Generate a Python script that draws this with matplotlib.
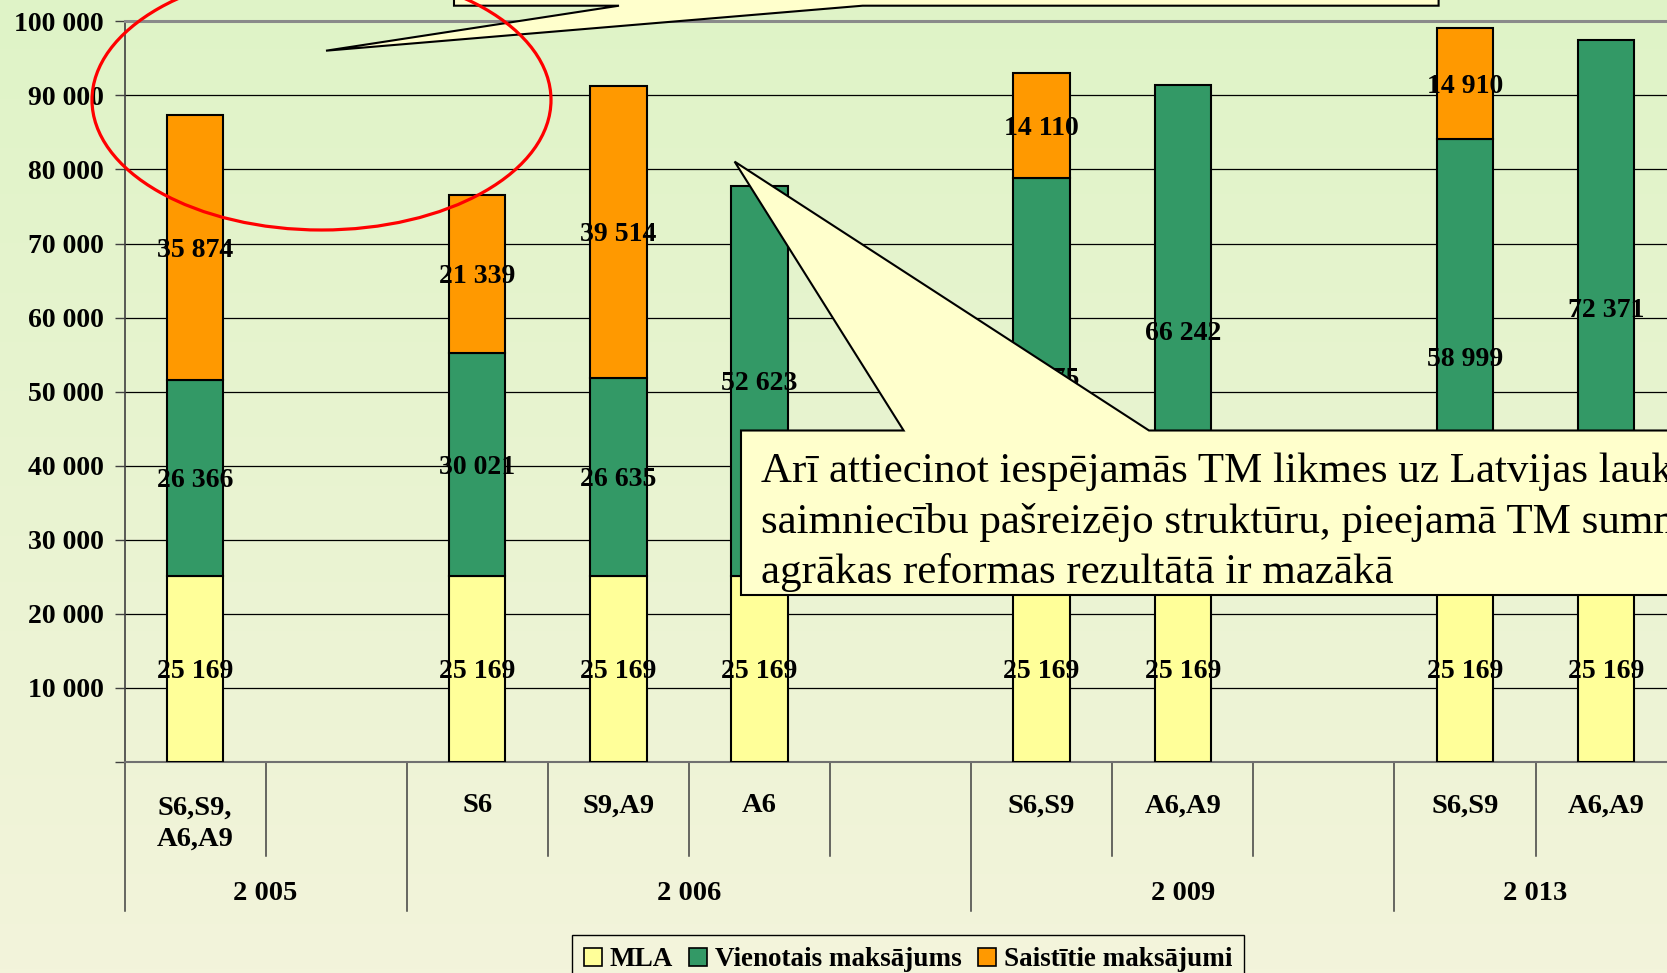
import matplotlib
matplotlib.use("Agg")
import matplotlib.pyplot as plt
import numpy as np
from matplotlib.patches import Polygon, Ellipse, Patch
from matplotlib.ticker import FuncFormatter

# --- data ---
categories = ["S6,S9,\nA6,A9", "", "S6", "S9,A9", "A6", "", "S6,S9", "A6,A9", "", "S6,S9", "A6,A9"]
mla = [25169, 0, 25169, 25169, 25169, 0, 25169, 25169, 0, 25169, 25169]
vienotais = [26366, 0, 30021, 26635, 52623, 0, 53675, 66242, 0, 58999, 72371]
saistitie = [35874, 0, 21339, 39514, 0, 0, 14110, 0, 0, 14910, 0]
years = ["2 005", "2 006", "2 009", "2 013"]
year_sizes = [2, 4, 3, 2]
series_names = ["MLA", "Vienotais maksājums", "Saistītie maksājumi"]
series_colors = ["#ffff99", "#339966", "#ff9900"]
note_lines = [
    "Arī attiecinot iespējamās TM likmes uz Latvijas lauku",
    "saimniecību pašreizējo struktūru, pieejamā TM summa",
    "agrākas reformas rezultātā ir mazākā",
]

W, H = 1667, 973
plt.rcParams["font.family"] = ["Liberation Serif", "DejaVu Serif"]

fig = plt.figure(figsize=(W / 100, H / 100), dpi=100)

# background gradient over the whole figure
bg = fig.add_axes([0, 0, 1, 1], zorder=-10)
top_c = np.array([223, 243, 199]) / 255
bot_c = np.array([243, 244, 219]) / 255
t = np.linspace(0, 1, 256)[:, None, None]
grad = top_c * (1 - t) + bot_c * t
bg.imshow(grad, aspect="auto", extent=[0, 1, 0, 1])
bg.axis("off")

# plot area (extends a little past the right edge, like the source)
ax_left, ax_top, ax_bottom = 124.5, 21.3, 762.0
slot_w = 141.1
n = len(categories)
ax = fig.add_axes([ax_left / W, 1 - ax_bottom / H, slot_w * n / W, (ax_bottom - ax_top) / H])
ax.patch.set_alpha(0)
ax.set_xlim(0, n)
ax.set_ylim(0, 100000)

x = np.arange(n) + 0.5
bottom = np.zeros(n)
for vals, name, col in zip([mla, vienotais, saistitie], series_names, series_colors):
    vals = np.array(vals, dtype=float)
    mask = vals > 0
    ax.bar(x[mask], vals[mask], bottom=bottom[mask], width=0.4, color=col,
           edgecolor="black", linewidth=1.5, zorder=3)
    for xi, b, v in zip(x[mask], bottom[mask], vals[mask]):
        ax.annotate(f"{int(v):,}".replace(",", " "), (xi, b + v / 2), xytext=(0, -2),
                    textcoords="offset points", ha="center", va="center",
                    fontsize=20, fontweight="bold", zorder=4)
    bottom = bottom + vals

# grid and axes styling
ax.set_yticks(np.arange(0, 100001, 10000))
ax.yaxis.set_major_formatter(FuncFormatter(lambda v, p: "" if v == 0 else f"{int(v):,}".replace(",", " ")))
ax.tick_params(axis="y", direction="out", length=7, width=1, color="#404040", pad=8,
               labelsize=20)
for lab in ax.get_yticklabels():
    lab.set_fontweight("bold")
ax.grid(axis="y", color="black", linewidth=0.9, zorder=1)
ax.set_xticks([])
ax.spines["right"].set_visible(False)
ax.spines["top"].set_color("#8a8a8a")
ax.spines["top"].set_linewidth(2.2)
ax.spines["left"].set_color("#404040")
ax.spines["left"].set_linewidth(1.2)
ax.spines["bottom"].set_color("#707070")
ax.spines["bottom"].set_linewidth(1.5)

# two-level category axis
ax_h = ax_bottom - ax_top
def frac(py):
    return -(py - ax_bottom) / ax_h

xt = ax.get_xaxis_transform()
group_edges = np.concatenate([[0], np.cumsum(year_sizes)])
for k in range(n + 1):
    end = 910.7 if k in group_edges else 855.7
    ax.plot([k, k], [0, frac(end)], transform=xt, color="#404040", linewidth=1.1,
            clip_on=False, zorder=2)
for xi, lab in zip(x, categories):
    if lab:
        nl = lab.count("\n")
        ax.text(xi, frac(806 + nl * 17.5), lab, transform=xt, ha="center", va="center",
                fontsize=20.5, fontweight="bold", linespacing=1.3)
for yr, a, b in zip(years, group_edges[:-1], group_edges[1:]):
    ax.text((a + b) / 2, frac(894), yr, transform=xt, ha="center", va="center",
            fontsize=20.5, fontweight="bold")

# annotations drawn in pixel space
tr = fig.dpi_scale_trans
def P(px, py):
    return (px / 100, (H - py) / 100)

top_box = [P(454, -60), P(454, 5.7), P(619, 5.7), P(326, 50.7), P(862.6, 5.7),
           P(1438.6, 5.7), P(1438.6, -60)]
fig.add_artist(Polygon(top_box, closed=True, transform=tr, facecolor="#ffffcc",
                       edgecolor="black", linewidth=1.5, zorder=5))

note_box = [P(741, 430.5), P(903.6, 430.5), P(734.6, 161.6), P(1149, 430.5),
            P(1720, 430.5), P(1720, 595), P(741, 595)]
fig.add_artist(Polygon(note_box, closed=True, transform=tr, facecolor="#ffffcc",
                       edgecolor="black", linewidth=1.5, zorder=5))
# the source slide crops this note at its right edge
for i, line in enumerate(note_lines):
    fig.text(761 / W, 1 - (482 + i * 50.7) / H, line, ha="left", va="baseline",
             fontsize=31, zorder=6)

fig.add_artist(Ellipse(P(321.5, 100), 4.59, 2.60, transform=tr, facecolor="none",
                       edgecolor="#ff0000", linewidth=2.3, zorder=7))

# legend
handles = [Patch(facecolor=c, edgecolor="black", linewidth=1.2) for c in series_colors]
leg = fig.legend(handles, series_names, loc="upper center", ncol=3,
                 bbox_to_anchor=(908 / W, 1 - 935 / H), frameon=True, fancybox=False,
                 framealpha=1, facecolor=tuple(bot_c), edgecolor="black",
                 prop={"size": 19.5, "weight": "bold"}, handlelength=0.65, handleheight=0.65,
                 handletextpad=0.3, columnspacing=0.6, borderpad=0.45, borderaxespad=0)
leg.get_frame().set_linewidth(1.0)

fig.savefig("out.png", dpi=100)
plt.close(fig)
